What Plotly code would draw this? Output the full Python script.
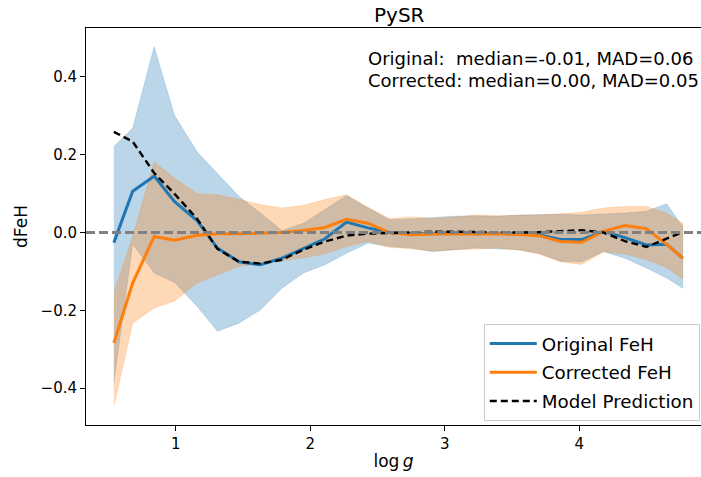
import plotly.graph_objects as go

# Binned residuals of [Fe/H] as a function of surface gravity
logg = [0.54, 0.68, 0.84, 0.99, 1.16, 1.31, 1.47, 1.63, 1.79, 1.95, 2.11, 2.27, 2.43, 2.59,
        2.75, 2.91, 3.07, 3.23, 3.39, 3.55, 3.70, 3.86, 4.02, 4.18, 4.34, 4.50, 4.65, 4.77]

orig_med = [-0.026, 0.106, 0.145, 0.080, 0.030, -0.040, -0.075, -0.083, -0.066, -0.042,
            -0.016, 0.027, 0.012, 0.000, -0.003, -0.003, -0.002, -0.003, -0.002, -0.004,
            -0.006, -0.018, -0.018, 0.003, -0.013, -0.032, -0.030, -0.066]
orig_hi = [0.221, 0.268, 0.478, 0.302, 0.207, 0.153, 0.093, 0.050, 0.005, 0.024,
           0.060, 0.095, 0.063, 0.033, 0.035, 0.038, 0.042, 0.043, 0.042, 0.045,
           0.046, 0.047, 0.045, 0.048, 0.050, 0.055, 0.074, 0.015]
orig_lo = [-0.387, -0.030, -0.104, -0.128, -0.190, -0.254, -0.233, -0.199, -0.143, -0.104,
           -0.083, -0.053, -0.027, -0.036, -0.040, -0.049, -0.044, -0.040, -0.042, -0.044,
           -0.053, -0.074, -0.075, -0.049, -0.066, -0.091, -0.117, -0.143]

corr_med = [-0.284, -0.130, -0.010, -0.020, -0.007, -0.003, -0.003, -0.002, 0.000, 0.005,
            0.013, 0.034, 0.024, 0.000, -0.006, -0.004, -0.003, -0.004, -0.003, -0.005,
            -0.008, -0.023, -0.025, 0.003, 0.018, 0.010, -0.030, -0.066]
corr_hi = [-0.155, -0.010, 0.182, 0.140, 0.100, 0.097, 0.085, 0.072, 0.063, 0.070,
           0.085, 0.097, 0.065, 0.036, 0.040, 0.037, 0.040, 0.045, 0.043, 0.044,
           0.045, 0.048, 0.052, 0.063, 0.067, 0.067, 0.050, 0.024]
corr_lo = [-0.447, -0.233, -0.194, -0.177, -0.130, -0.109, -0.087, -0.080, -0.073, -0.065,
           -0.055, -0.036, -0.023, -0.038, -0.042, -0.048, -0.045, -0.042, -0.040, -0.045,
           -0.055, -0.075, -0.082, -0.050, -0.055, -0.070, -0.090, -0.120]

model = [0.259, 0.234, 0.153, 0.100, 0.035, -0.042, -0.075, -0.080, -0.070, -0.044,
         -0.023, -0.008, -0.003, -0.001, 0.000, 0.002, 0.002, 0.001, 0.000, 0.000,
         0.001, 0.004, 0.006, 0.000, -0.022, -0.037, -0.015, 0.001]

stats_lines = ["Original:\u00a0 median=-0.01, MAD=0.06",
               "Corrected: median=0.00, MAD=0.05"]

BLUE = "#1f77b4"
ORANGE = "#ff7f0e"
FONT = "DejaVu Sans"

fig = go.Figure()


def band(x, lo, hi, rgba):
    return go.Scatter(x=list(x) + list(x)[::-1], y=list(hi) + list(lo)[::-1],
                      fill="toself", fillcolor=rgba, mode="lines",
                      line=dict(width=0.6, color=rgba), hoverinfo="skip",
                      showlegend=False)


fig.add_trace(band(logg, orig_lo, orig_hi, "rgba(31,119,180,0.3)"))
fig.add_trace(band(logg, corr_lo, corr_hi, "rgba(255,127,14,0.3)"))

fig.add_trace(go.Scatter(x=logg, y=orig_med, mode="lines", name="Original FeH",
                         legendgroup="a", line=dict(color=BLUE, width=3)))
fig.add_trace(go.Scatter(x=logg, y=corr_med, mode="lines", name="Corrected FeH",
                         legendgroup="b", line=dict(color=ORANGE, width=3)))
fig.add_trace(go.Scatter(x=logg, y=model, mode="lines", name="Model Prediction",
                         legendgroup="c",
                         line=dict(color="black", width=2.4, dash="7px,4px")))

# zero reference line across the full axes
fig.add_shape(type="line", xref="paper", yref="y", x0=0, x1=1, y0=0, y1=0,
              line=dict(color="gray", width=3, dash="9px,4px"), layer="above")

# title, centred on the full axes width
fig.add_annotation(text="PySR", xref="paper", yref="paper", x=0.509,
                   y=1 + (28 - 15) / 397, xanchor="center", yanchor="middle",
                   showarrow=False, borderpad=0,
                   font=dict(family=FONT, size=20, color="black"))
for i, line in enumerate(stats_lines):
    fig.add_annotation(text=line, xref="paper", yref="paper", x=(366 - 86) / 615,
                       y=1 - (58 + 22 * i - 28) / 397, xanchor="left", yanchor="middle",
                       showarrow=False, font=dict(family=FONT, size=18, color="black"))

fig.update_layout(
    width=701, height=477,
    margin=dict(l=86, r=0, t=28, b=52),
    paper_bgcolor="white", plot_bgcolor="white",
    font=dict(family=FONT, size=15, color="black"),
    showlegend=True,
    legend=dict(x=0.998, y=0.01, xanchor="right", yanchor="bottom",
                bgcolor="rgba(255,255,255,0.85)", bordercolor="#cccccc", borderwidth=1,
                font=dict(family=FONT, size=18.3, color="black"),
                traceorder="grouped", tracegroupgap=2, itemwidth=47),
    xaxis=dict(range=[0.333, 4.906], tickvals=[1, 2, 3, 4], showgrid=False, zeroline=False,
               showline=True, linecolor="black", linewidth=1, mirror=True,
               ticks="outside", ticklen=5, tickcolor="black",
               title=dict(text="log\u2009<i>g</i>", font=dict(family=FONT, size=17), standoff=3)),
    yaxis=dict(range=[-0.495, 0.526], tickvals=[-0.4, -0.2, 0.0, 0.2, 0.4], tickformat=".1f",
               showgrid=False, zeroline=False, showline=True, linecolor="black", linewidth=1,
               mirror=False, ticks="outside", ticklen=5, tickcolor="black",
               title=dict(text="dFeH", font=dict(family=FONT, size=17), standoff=8)),
)

fig.write_html("out.html")
